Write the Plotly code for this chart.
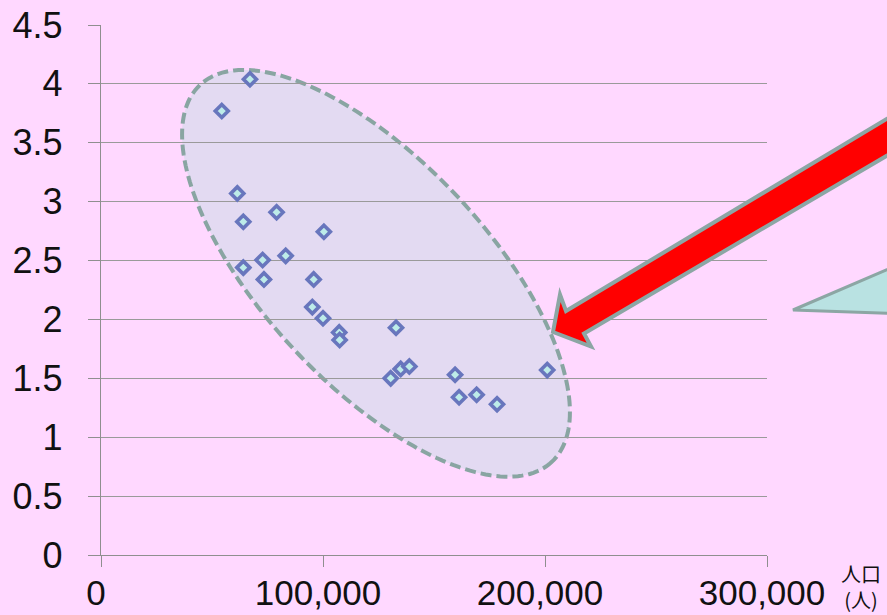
import numpy as np
import plotly.graph_objects as go

# ---- data ----
population = [54400, 67100, 61400, 64100, 79100, 100400, 72800, 64100, 83200, 73400,
              95800, 95200, 100000, 107300, 107500, 132900, 130500, 135000, 138900,
              159500, 161300, 169200, 178400, 201000]
values = [3.77, 4.04, 3.07, 2.83, 2.91, 2.745, 2.505, 2.44, 2.54, 2.34,
          2.34, 2.105, 2.01, 1.89, 1.825, 1.93, 1.50, 1.58, 1.60,
          1.53, 1.34, 1.36, 1.28, 1.57]
x_ticks = [0, 100000, 200000, 300000]
x_tick_labels = ["0", "100,000", "200,000", "300,000"]
y_ticks = [0, 0.5, 1, 1.5, 2, 2.5, 3, 3.5, 4, 4.5]
y_tick_labels = ["0", "0.5", "1", "1.5", "2", "2.5", "3", "3.5", "4", "4.5"]
x_title = "人口<br>(人)"

# ---- layout geometry ----
W, H = 887, 615
L, R, T, B = 101, 120, 25, 60
X0, X1 = 0, 300000
Y0, Y1 = 0, 4.5
pw, ph = W - L - R, H - T - B

def px2data(px, py):
    return X0 + (px - L) / pw * (X1 - X0), Y0 + (H - B - py) / ph * (Y1 - Y0)

def px2paper(px, py):
    return (px - L) / pw, (H - B - py) / ph

def path_from(points, conv):
    pts = [conv(a, b) for a, b in points]
    return "M " + " L ".join(f"{a:.5f},{b:.5f}" for a, b in pts) + " Z"

# ellipse (annotation) in pixel space
cx, cy, A, Bm, th = 376, 273.3, 257.8, 111.9, np.deg2rad(47)
t = np.linspace(0, 2 * np.pi, 200, endpoint=False)
ex = cx + A * np.cos(th) * np.cos(t) - Bm * np.sin(th) * np.sin(t)
ey = cy + A * np.sin(th) * np.cos(t) + Bm * np.cos(th) * np.sin(t)
ellipse_path = path_from(list(zip(ex, ey)), px2data)

arrow_pts = [(553, 332), (591, 346.5), (584, 333.5), (905, 145), (905, 108),
             (566, 311), (560, 294.5)]
arrow_path = path_from(arrow_pts, px2paper)

callout_pts = [(793, 310), (905, 262), (905, 314)]
callout_path = path_from(callout_pts, px2paper)

fig = go.Figure()
fig.add_trace(go.Scatter(
    x=population, y=values, mode="markers",
    marker=dict(symbol="diamond", size=10, color="#bdece9",
                line=dict(color="#6876bd", width=3.6)),
    hoverinfo="x+y", showlegend=False,
))

fig.add_shape(type="path", path=ellipse_path, xref="x", yref="y", layer="below",
              fillcolor="#e3daf2", line=dict(color="#89a5a2", width=4, dash="11px,5px"))
fig.add_shape(type="path", path=arrow_path, xref="paper", yref="paper", layer="above",
              fillcolor="#ff0000", line=dict(color="#8ca6a4", width=4))
fig.add_shape(type="path", path=callout_path, xref="paper", yref="paper", layer="above",
              fillcolor="#b9e2e2", line=dict(color="#8ca6a4", width=3))

fig.add_annotation(text=x_title, xref="paper", yref="paper",
                   x=px2paper(861, 0)[0], y=px2paper(0, 557)[1],
                   xanchor="center", yanchor="top", showarrow=False, align="center",
                   font=dict(family="Noto Sans CJK JP", size=20, color="#111111"))

font = dict(family="Liberation Sans, Arial", size=35, color="#111111")
fig.update_layout(
    width=W, height=H,
    margin=dict(l=L, r=R, t=T, b=B, pad=0, autoexpand=False),
    paper_bgcolor="#ffd8ff", plot_bgcolor="#ffd8ff",
    xaxis=dict(range=[X0, X1], tickvals=x_ticks, ticktext=x_tick_labels,
               showgrid=False, zeroline=False, showline=True, linecolor="#8f8f8f",
               linewidth=1.3, ticks="outside", ticklen=11, tickcolor="#8f8f8f",
               tickwidth=1.3, tickfont=font, ticklabelstandoff=-4, ticklabelshift=-5,
               fixedrange=True, automargin=False),
    yaxis=dict(range=[Y0, Y1], tickvals=y_ticks, ticktext=y_tick_labels,
               showgrid=True, gridcolor="#9a9a9a", gridwidth=1.3, zeroline=False,
               showline=True, linecolor="#8f8f8f", linewidth=1.3,
               ticks="outside", ticklen=12, tickcolor="#8f8f8f", tickwidth=1.3,
               tickfont=dict(family="Liberation Sans, Arial", size=36, color="#111111"),
               ticklabelstandoff=18, fixedrange=True, automargin=False),
)

fig.write_html("out.html")
